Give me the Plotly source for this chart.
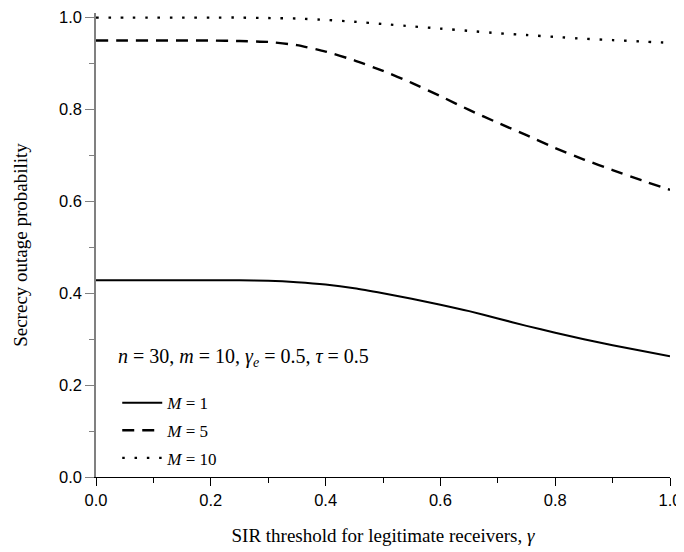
import plotly.graph_objects as go

gamma = [0.0, 0.05, 0.1, 0.15, 0.2, 0.25, 0.3, 0.35, 0.4, 0.45, 0.5, 0.55, 0.6,
         0.65, 0.7, 0.75, 0.8, 0.85, 0.9, 0.95, 1.0]
p_M1 = [0.428, 0.428, 0.428, 0.428, 0.428, 0.428, 0.427, 0.424, 0.419, 0.411, 0.400,
        0.388, 0.375, 0.361, 0.345, 0.329, 0.314, 0.300, 0.287, 0.275, 0.263]
p_M5 = [0.950, 0.950, 0.950, 0.950, 0.950, 0.949, 0.947, 0.940, 0.926, 0.907, 0.884,
        0.858, 0.829, 0.799, 0.771, 0.744, 0.716, 0.691, 0.668, 0.646, 0.625]
p_M10 = [1.000, 1.000, 1.000, 1.000, 1.000, 1.000, 0.999, 0.998, 0.995, 0.991, 0.986,
         0.981, 0.976, 0.971, 0.966, 0.962, 0.958, 0.954, 0.951, 0.948, 0.945]

series_names = ["<i>M</i> = 1", "<i>M</i> = 5", "<i>M</i> = 10"]
x_ticks = [0.0, 0.2, 0.4, 0.6, 0.8, 1.0]
y_ticks = [0.0, 0.2, 0.4, 0.6, 0.8, 1.0]
param_text = "<i>n</i> = 30, <i>m</i> = 10, <i>γ</i><sub><i>e</i></sub> = 0.5, <i>τ</i> = 0.5"

fig = go.Figure()
styles = [dict(width=2, dash="solid"),
          dict(width=2.4, dash="12px,8px"),
          dict(width=2.4, dash="2.5px,9.8px")]
for i, (name, ys, st) in enumerate(zip(series_names, [p_M1, p_M5, p_M10], styles)):
    fig.add_trace(go.Scatter(x=gamma, y=ys, mode="lines", name=name, legendgroup=f"g{i}",
                             line=dict(color="black", shape="spline", smoothing=0.6, **st)))

serif = "Liberation Serif, Times New Roman, serif"
sans = "Liberation Sans, Arial, sans-serif"

# the page body has an 8px default margin, so the figure is sized to fit the window
fig.update_layout(
    width=676, height=544,
    margin=dict(l=88, r=14, t=5, b=75, autoexpand=False),
    plot_bgcolor="white", paper_bgcolor="white",
    showlegend=True,
    legend=dict(x=0.037, y=0.198, xanchor="left", yanchor="top",
                traceorder="grouped", tracegroupgap=2.5,
                font=dict(family=serif, size=17, color="black"),
                bgcolor="rgba(0,0,0,0)", itemwidth=40),
    xaxis=dict(range=[0, 1], tickvals=x_ticks, ticktext=[f"{v:.1f}" for v in x_ticks],
               automargin=False, ticklabeloverflow="allow",
               showgrid=False, zeroline=False, showline=True, linecolor="black", linewidth=1.3,
               ticks="outside", ticklen=8, tickwidth=1.3, tickcolor="black",
               tickfont=dict(family=sans, size=16.5, color="black"),
               minor=dict(dtick=0.1, ticks="outside", ticklen=5, tickwidth=1.3, tickcolor="black"),
               title=dict(text="SIR threshold for legitimate receivers, <i>γ</i>",
                          font=dict(family=serif, size=19, color="black"), standoff=20)),
    yaxis=dict(range=[0, 1.01], tickvals=y_ticks, ticktext=[f"{v:.1f}" for v in y_ticks],
               automargin=False, ticklabeloverflow="allow",
               showgrid=False, zeroline=False, showline=True, linecolor="#808080", linewidth=1.5,
               ticks="outside", ticklen=9, tickwidth=1.3, tickcolor="#808080",
               tickfont=dict(family=sans, size=16.5, color="black"),
               minor=dict(dtick=0.1, ticks="outside", ticklen=5, tickwidth=1.3, tickcolor="#808080"),
               title=dict(text="Secrecy outage probability",
                          font=dict(family=serif, size=19, color="black"), standoff=26)),
)
fig.add_annotation(x=0.0345, y=0.258, xref="paper", yref="paper", xanchor="left", yanchor="middle",
                   text=param_text, showarrow=False,
                   font=dict(family=serif, size=20, color="black"))
fig.write_html("out.html")
